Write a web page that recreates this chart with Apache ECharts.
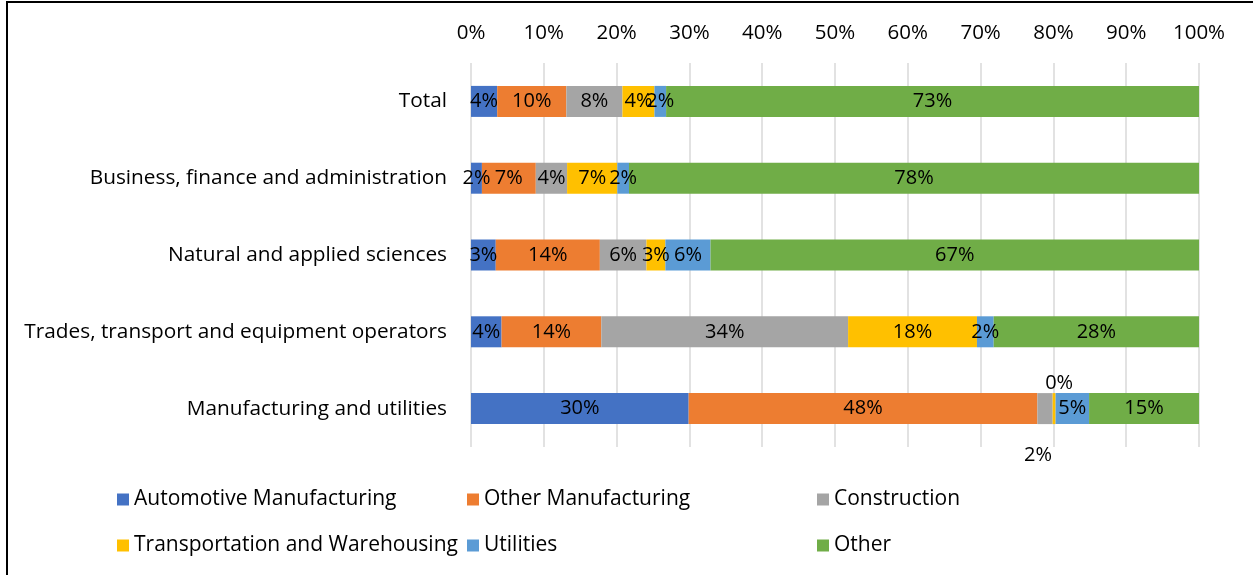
<!DOCTYPE html>
<html>
    <head>
        <meta charset="utf-8">
        <title>Industry share by occupation</title>
        <script src="https://cdn.jsdelivr.net/npm/echarts@6/dist/echarts.min.js"></script>
        <style>
            body { margin: 0; background: #fff; }
        </style>
    </head>
    <body>
    <div id="main" style="width: 1253px; height: 575px;"></div>
    <script type="text/javascript">

// rows, top to bottom
var categories = [
  'Total',
  'Business, finance and administration',
  'Natural and applied sciences',
  'Trades, transport and equipment operators',
  'Manufacturing and utilities'
];

// share of each row, in percent
var automotive   = [3.6, 1.5, 3.4, 4.2, 29.9];
var otherManuf   = [9.5, 7.4, 14.3, 13.7, 47.9];
var construction = [7.7, 4.3, 6.4, 33.9, 2.1];
var transport    = [4.4, 6.9, 2.6, 17.7, 0.4];
var utilities    = [1.6, 1.6, 6.2, 2.3, 4.6];
var other        = [73.2, 78.3, 67.1, 28.2, 15.1];

var xTicks = [0, 10, 20, 30, 40, 50, 60, 70, 80, 90, 100];

var seriesNames = ['Automotive Manufacturing', 'Other Manufacturing', 'Construction',
  'Transportation and Warehousing', 'Utilities', 'Other'];
var seriesValues = [automotive, otherManuf, construction, transport, utilities, other];
var colors = ['#4472C4', '#ED7D31', '#A5A5A5', '#FFC000', '#5B9BD5', '#70AD47'];

var FONT = 'Open Sans';
var chartDom = document.getElementById('main');
var myChart = echarts.init(chartDom);

// small segments in the last row get their labels moved outside the bar
var labelOverrides = {
  'Construction': { 4: { position: 'bottom', offset: [-7, 16] } },
  'Transportation and Warehousing': { 4: { position: 'top', offset: [5, 5] } }
};

var series = seriesNames.map(function (name, i) {
  var over = labelOverrides[name] || {};
  return {
    name: name,
    type: 'bar',
    stack: 'total',
    barWidth: 31,
    itemStyle: { color: colors[i] },
    label: {
      show: true,
      position: 'inside',
      color: '#000',
      fontFamily: FONT,
      fontSize: 20,
      formatter: function (p) { return Math.round(p.value) + '%'; }
    },
    data: seriesValues[i].map(function (v, j) {
      if (over[j]) return { value: v, label: over[j] };
      return v;
    })
  };
});

// legend laid out as a 3 x 2 grid
var legendPos = [[117, 489], [467, 489], [817, 489], [117, 535], [467, 535], [817, 535]];
var legends = seriesNames.map(function (name, i) {
  return {
    data: [name],
    left: legendPos[i][0],
    top: legendPos[i][1],
    padding: 0,
    icon: 'rect',
    itemWidth: 12,
    itemHeight: 12,
    selectedMode: false,
    textStyle: { fontFamily: FONT, fontSize: 21, color: '#000' }
  };
});

var option = {
  animation: false,
  textStyle: { fontFamily: FONT },
  grid: { left: 471, right: 54, top: 63, bottom: 128 },
  legend: legends,
  xAxis: {
    type: 'value',
    position: 'top',
    min: xTicks[0],
    max: xTicks[xTicks.length - 1],
    interval: xTicks[1] - xTicks[0],
    axisLine: { show: false },
    axisTick: { show: false },
    axisLabel: { margin: 19, fontSize: 20.5, color: '#000', formatter: '{value}%' },
    splitLine: { lineStyle: { color: '#d9d9d9', width: 1.5 } }
  },
  yAxis: {
    type: 'category',
    inverse: true,
    data: categories,
    axisLine: { show: false },
    axisTick: { show: false },
    axisLabel: { margin: 24, fontSize: 20.8, color: '#000' }
  },
  graphic: [{
    type: 'polyline',
    shape: { points: [[7, 575], [7, 2], [1253, 2]] },
    style: { stroke: '#000', lineWidth: 2, fill: null }
  }],
  series: series
};

option && myChart.setOption(option);
    </script>
    </body>
</html>
